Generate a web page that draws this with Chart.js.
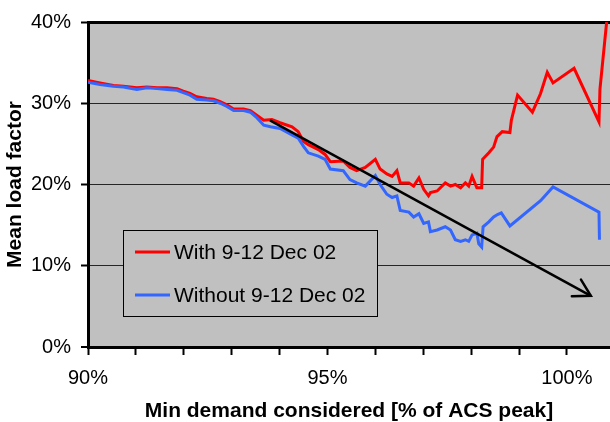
<!DOCTYPE html>
<html>
<head>
<meta charset="utf-8">
<script src="https://cdn.jsdelivr.net/npm/chart.js@4.4.1/dist/chart.umd.min.js"></script>
<style>
  body { margin: 0; background: #fff; }
  #wrap { width: 610px; height: 422px; }
</style>
</head>
<body>
<div id="wrap"><canvas id="loadChart" width="610" height="422"></canvas></div>
<script>
// min demand considered [% of ACS peak] vs mean load factor [%]
const xWith = [90.00, 90.25, 90.53, 90.74, 91.02, 91.23, 91.44, 91.65, 91.86, 91.99,
    92.13, 92.27, 92.48, 92.62, 92.76, 92.90, 93.04, 93.25, 93.39, 93.53,
    93.67, 93.84, 94.01, 94.26, 94.39, 94.50, 94.60, 94.81, 94.95, 95.06,
    95.33, 95.47, 95.61, 95.79, 96.00, 96.10, 96.24, 96.35, 96.45, 96.52,
    96.70, 96.80, 96.91, 97.01, 97.11, 97.15, 97.29, 97.46, 97.57, 97.67,
    97.78, 97.88, 97.95, 98.02, 98.12, 98.22, 98.24, 98.37, 98.47, 98.54,
    98.65, 98.81, 98.84, 98.97, 99.28, 99.45, 99.59, 99.71, 100.15, 100.67,
    100.69, 100.83];
const yWith = [32.8, 32.5, 32.2, 32.1, 31.9, 32.0, 31.9, 31.9, 31.8, 31.5,
    31.2, 30.8, 30.6, 30.5, 30.2, 29.8, 29.3, 29.3, 29.1, 28.5,
    27.9, 28.0, 27.6, 27.1, 26.5, 25.3, 24.9, 24.3, 23.7, 22.8,
    22.9, 22.1, 21.7, 22.1, 23.1, 21.9, 21.3, 21.0, 21.7, 20.2,
    20.2, 19.8, 20.8, 19.4, 18.6, 19.0, 19.2, 20.2, 19.8, 20.0,
    19.6, 20.2, 19.8, 21.0, 19.6, 19.6, 23.1, 23.9, 24.6, 25.9,
    26.5, 26.4, 27.9, 31.0, 28.9, 31.2, 33.8, 32.5, 34.3, 27.7,
    31.7, 40.0];

const xWithout = [90.00, 90.25, 90.53, 90.74, 91.02, 91.23, 91.44, 91.65, 91.86, 91.99,
    92.13, 92.27, 92.48, 92.62, 92.76, 92.90, 93.04, 93.25, 93.39, 93.53,
    93.67, 93.81, 94.01, 94.26, 94.39, 94.50, 94.60, 94.81, 94.95, 95.06,
    95.33, 95.47, 95.61, 95.79, 96.00, 96.10, 96.24, 96.35, 96.45, 96.52,
    96.70, 96.80, 96.91, 97.01, 97.11, 97.15, 97.29, 97.46, 97.57, 97.67,
    97.78, 97.88, 97.95, 98.02, 98.12, 98.16, 98.22, 98.25, 98.37, 98.47,
    98.55, 98.63, 98.81, 99.45, 99.71, 100.67, 100.68];
const yWithout = [32.6, 32.3, 32.1, 32.0, 31.7, 31.9, 31.8, 31.7, 31.6, 31.3,
    31.0, 30.5, 30.4, 30.3, 30.0, 29.6, 29.1, 29.1, 28.9, 28.2,
    27.3, 27.1, 26.9, 26.1, 25.7, 24.7, 23.9, 23.5, 23.1, 21.9,
    21.7, 20.6, 20.2, 19.8, 21.1, 20.0, 18.8, 18.4, 18.6, 16.8,
    16.6, 16.0, 16.4, 15.2, 15.4, 14.2, 14.4, 14.8, 14.4, 13.2,
    13.0, 13.2, 13.0, 13.8, 14.0, 12.7, 12.3, 14.8, 15.4, 16.0,
    16.3, 16.5, 14.9, 18.0, 19.7, 16.6, 13.2];

// trend arrow (start, tip)
const arrowX = [93.80, 100.50];
const arrowY = [27.9, 6.3];

const xTicks = [90, 91, 92, 93, 94, 95, 96, 97, 98, 99, 100];
const yTicks = [0, 10, 20, 30, 40];

const seriesNames = ['With 9-12 Dec 02', 'Without 9-12 Dec 02'];

const FONT = '"Liberation Sans", Arial, sans-serif';

function pts(xs, ys) {
    return xs.map((x, i) => ({ x: x, y: ys[i] }));
}

const plotBg = {
    id: 'plotBg',
    beforeDraw(chart) {
        const a = chart.chartArea;
        const c = chart.ctx;
        c.save();
        c.fillStyle = '#c0c0c0';
        c.fillRect(a.left, a.top, a.right - a.left, a.bottom - a.top);
        c.restore();
    }
};

const arrowHead = {
    id: 'arrowHead',
    afterDatasetsDraw(chart) {
        const meta = chart.getDatasetMeta(2);
        const p0 = meta.data[0], p1 = meta.data[1];
        const ang = Math.atan2(p1.y - p0.y, p1.x - p0.x);
        const len = 19, spread = Math.PI / 6;
        const c = chart.ctx;
        c.save();
        c.strokeStyle = '#000';
        c.lineWidth = 2.5;
        c.lineCap = 'round';
        c.beginPath();
        c.moveTo(p1.x - len * Math.cos(ang - spread), p1.y - len * Math.sin(ang - spread));
        c.lineTo(p1.x, p1.y);
        c.lineTo(p1.x - len * Math.cos(ang + spread), p1.y - len * Math.sin(ang + spread));
        c.stroke();
        c.restore();
    }
};

// boxed legend sitting inside the plot, like the original
const boxLegend = {
    id: 'boxLegend',
    afterDatasetsDraw(chart) {
        const c = chart.ctx;
        const left = 123.5, top = 230.5, w = 254, h = 86;
        c.save();
        c.fillStyle = '#c0c0c0';
        c.fillRect(left, top, w, h);
        c.strokeStyle = '#000';
        c.lineWidth = 1;
        c.strokeRect(left, top, w, h);
        c.font = '21px ' + FONT;
        c.textBaseline = 'middle';
        c.textAlign = 'left';
        const rowY = [252, 295];
        chart.data.datasets.filter(d => d.label).forEach((d, i) => {
            c.strokeStyle = d.borderColor;
            c.lineWidth = 3;
            c.beginPath();
            c.moveTo(135, rowY[i]);
            c.lineTo(170, rowY[i]);
            c.stroke();
            c.fillStyle = '#000';
            c.fillText(d.label, 174, rowY[i] + 1);
        });
        c.restore();
    }
};

Chart.defaults.color = '#000';
Chart.defaults.font.family = FONT;

const ctx = document.getElementById('loadChart').getContext('2d');
const loadChart = new Chart(ctx, {
    type: 'line',
    data: {
        datasets: [{
            label: seriesNames[0],
            data: pts(xWith, yWith),
            borderColor: '#ff0000',
            borderWidth: 3,
            order: 2
        }, {
            label: seriesNames[1],
            data: pts(xWithout, yWithout),
            borderColor: '#3366ff',
            borderWidth: 3,
            order: 1
        }, {
            label: '',
            data: pts(arrowX, arrowY),
            borderColor: '#000000',
            borderWidth: 2.5,
            order: 0
        }]
    },
    options: {
        responsive: false,
        animation: false,
        elements: {
            line: { tension: 0, fill: false },
            point: { radius: 0, hoverRadius: 0 }
        },
        layout: { padding: { top: 17, right: 0, bottom: 0, left: 0 } },
        plugins: {
            legend: { display: false },
            tooltip: { enabled: false }
        },
        scales: {
            x: {
                type: 'linear',
                min: 90,
                max: 100.9,
                afterBuildTicks: s => { s.ticks = xTicks.map(v => ({ value: v })); },
                afterFit: s => { s.height = 75; },
                ticks: {
                    autoSkip: false,
                    maxRotation: 0,
                    padding: 11,
                    font: { size: 20 },
                    callback: v => (v % 5 === 0 ? v + '%' : '')
                },
                grid: {
                    drawOnChartArea: false,
                    tickLength: 8,
                    tickWidth: 2,
                    tickColor: '#000'
                },
                border: { display: true, color: '#000', width: 3 },
                title: {
                    display: true,
                    text: 'Min demand considered [% of ACS peak]',
                    font: { size: 21, weight: 'bold', lineHeight: 1 },
                    padding: { top: 0, bottom: 0 }
                }
            },
            y: {
                min: 0,
                max: 40,
                afterBuildTicks: s => { s.ticks = yTicks.map(v => ({ value: v })); },
                afterFit: s => { s.width = 88; },
                ticks: {
                    padding: 10,
                    font: { size: 20 },
                    callback: v => v + '%'
                },
                grid: {
                    color: c => (c.tick && c.tick.value === 40 ? '#000' : '#262626'),
                    lineWidth: c => (c.tick && c.tick.value === 40 ? 3 : (c.tick && c.tick.value === 0 ? 0 : 1)),
                    tickLength: 7,
                    tickWidth: 2,
                    tickColor: '#000'
                },
                border: { display: true, color: '#000', width: 3 },
                title: {
                    display: true,
                    text: 'Mean load factor',
                    font: { size: 21, weight: 'bold', lineHeight: 1 },
                    padding: { top: 5, bottom: 0 }
                }
            }
        }
    },
    plugins: [plotBg, arrowHead, boxLegend]
});
</script>
</body>
</html>
